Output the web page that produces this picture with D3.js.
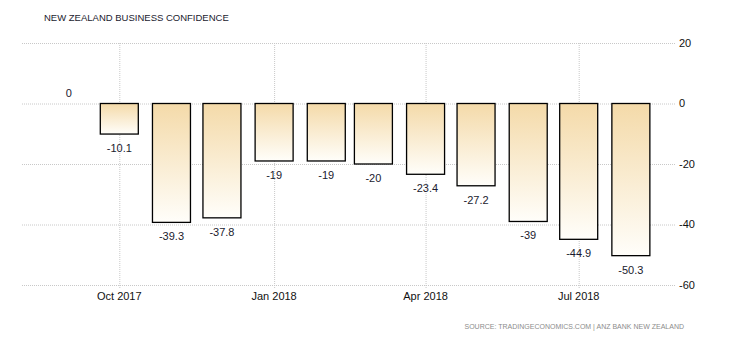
<!DOCTYPE html>
<html>
<head>
<meta charset="utf-8">
<script src="https://cdn.jsdelivr.net/npm/d3@7"></script>
<style>
  body { margin: 0; background: #fff; }
  svg text { font-family: "Liberation Sans", Arial, sans-serif; }
  .grid line { stroke: #c8c8c8; stroke-dasharray: 1,1; }
  .grid path { display: none; }
</style>
</head>
<body>
<script>
//chart data
var months = ["2017-09", "2017-10", "2017-11", "2017-12", "2018-01", "2018-02", "2018-03", "2018-04", "2018-05", "2018-06", "2018-07", "2018-08"];
var values = [0, -10.1, -39.3, -37.8, -19, -19, -20, -23.4, -27.2, -39, -44.9, -50.3];
var yTicks = [20, 0, -20, -40, -60];
var xTicks = ["2017-10", "2018-01", "2018-04", "2018-07"];

(function(){
var parseMonth = d3.timeParse("%Y-%m");
var data = months.map(function(m, i){ return {date: parseMonth(m), value: values[i]}; });

//frame
var width = 730, height = 340,
    plotLeft = 22, plotRight = 676, plotTop = 43, plotBottom = 285;

var svg = d3.select("body").append("svg")
    .attr("width", width)
    .attr("height", height);

//gradient for bars
var grad = svg.append("defs").append("linearGradient")
    .attr("id", "barFill")
    .attr("x1", 0).attr("y1", 0).attr("x2", 0).attr("y2", 1);
grad.append("stop").attr("offset", "0%").attr("stop-color", "#f4daa9");
grad.append("stop").attr("offset", "100%").attr("stop-color", "#fffefa");

//scales
var x = d3.scaleTime()
    .domain([parseMonth("2017-10"), parseMonth("2018-07")])
    .range([119.3, 578.7]);
var y = d3.scaleLinear()
    .domain([-60, 20])
    .range([plotBottom, plotTop]);

//horizontal grid
svg.append("g")
    .attr("class", "grid")
    .attr("transform", "translate(" + plotLeft + ",0)")
    .call(d3.axisRight(y).tickValues(yTicks).tickSize(plotRight - plotLeft).tickFormat(""));

//vertical grid
svg.append("g")
    .attr("class", "grid")
    .attr("transform", "translate(0," + plotTop + ")")
    .call(d3.axisBottom(x).tickValues(xTicks.map(parseMonth)).tickSize(plotBottom - plotTop + 4).tickFormat(""));

//y labels on the right
svg.selectAll(".ylab")
    .data(yTicks)
    .enter()
    .append("text")
    .attr("class", "ylab")
    .attr("x", plotRight + 3)
    .attr("y", function(d){ return y(d); })
    .attr("dy", "0.35em")
    .style("font-size", "11px")
    .style("fill", "#111")
    .text(function(d){ return d; });

//x labels
var fmt = d3.timeFormat("%b %Y");
svg.selectAll(".xlab")
    .data(xTicks.map(parseMonth))
    .enter()
    .append("text")
    .attr("class", "xlab")
    .attr("x", function(d){ return x(d); })
    .attr("y", plotBottom + 15)
    .attr("text-anchor", "middle")
    .style("font-size", "11px")
    .style("fill", "#111")
    .text(function(d){ return fmt(d); });

//bars
var barWidth = 38;
svg.selectAll(".bar")
    .data(data)
    .enter()
    .append("rect")
    .attr("class", "bar")
    .attr("x", function(d){ return x(d.date) - barWidth / 2; })
    .attr("y", function(d){ return y(Math.max(0, d.value)); })
    .attr("width", barWidth)
    .attr("height", function(d){ return Math.abs(y(d.value) - y(0)); })
    .style("fill", "url(#barFill)")
    .style("stroke", function(d){ return d.value == 0 ? "none" : "#000"; })
    .style("stroke-width", 1.3);

//value labels
svg.selectAll(".val")
    .data(data)
    .enter()
    .append("text")
    .attr("class", "val")
    .attr("x", function(d){ return x(d.date); })
    .attr("y", function(d){ return d.value < 0 ? y(d.value) + 18 : y(d.value) - 7; })
    .attr("text-anchor", "middle")
    .style("font-size", "11px")
    .style("fill", "#1a1a2e")
    .text(function(d){ return d.value; });

//title
svg.append("text")
    .attr("x", 44)
    .attr("y", 21)
    .style("font-size", "9.5px")
    .style("fill", "#1a1a2e")
    .text("NEW ZEALAND BUSINESS CONFIDENCE");

//source
svg.append("text")
    .attr("x", 684)
    .attr("y", 329)
    .attr("text-anchor", "end")
    .style("font-size", "7px")
    .style("fill", "#8c8c8c")
    .text("SOURCE: TRADINGECONOMICS.COM | ANZ BANK NEW ZEALAND");
})();
</script>
</body>
</html>
